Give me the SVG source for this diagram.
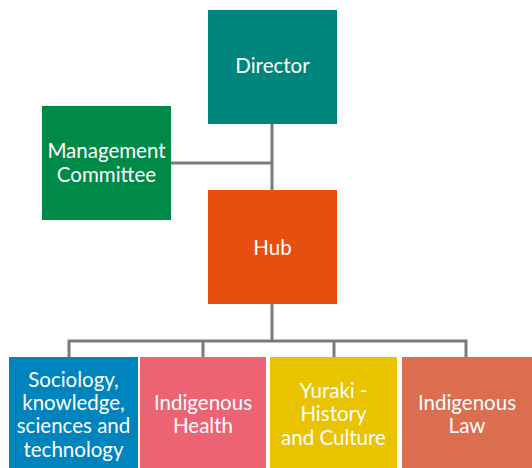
<svg xmlns="http://www.w3.org/2000/svg" width="532" height="468" viewBox="0 0 532 468">
<style>
.t{font-family:Lato,"Open Sans","Liberation Sans",sans-serif;font-size:20.5px;fill:#ffffff;text-anchor:middle}
.c{fill:none;stroke:#7a7a7a;stroke-width:3}
</style>
<rect width="532" height="468" fill="#ffffff"/>
<g id="connectors">
<path class="c" d="M272 124V190M171 163H272M272 304V341M69 341H466M69 339.5V357M203 339.5V357M334 339.5V357M466 339.5V357"/>
</g>
<g id="director"><rect x="208" y="10" width="129" height="114" fill="#00857c"/><text class="t" x="272.5" y="73">Director</text></g>
<g id="management"><rect x="42" y="106" width="129" height="114" fill="#008a47"/><text class="t" x="106.5" y="158">Management</text><text class="t" x="106.5" y="182">Committee</text></g>
<g id="hub"><rect x="208" y="190" width="129" height="114" fill="#e84e0f"/><text class="t" x="272.5" y="255">Hub</text></g>
<g id="sociology"><rect x="9" y="357" width="129" height="111" fill="#0084be"/><text class="t" x="73.5" y="387">Sociology,</text><text class="t" x="73.5" y="410">knowledge,</text><text class="t" x="73.5" y="433">sciences and</text><text class="t" x="73.5" y="457">technology</text></g>
<g id="health"><rect x="140" y="357" width="126" height="111" fill="#ec6374"/><text class="t" x="203" y="410">Indigenous</text><text class="t" x="203" y="433">Health</text></g>
<g id="yuraki"><rect x="270" y="357" width="127" height="111" fill="#e9c200"/><text class="t" x="333.5" y="398">Yuraki -</text><text class="t" x="333.5" y="421">History</text><text class="t" x="333.5" y="445">and Culture</text></g>
<g id="law"><rect x="402" y="357" width="130" height="111" fill="#dc6e50"/><text class="t" x="467" y="410">Indigenous</text><text class="t" x="467" y="433">Law</text></g>
</svg>
